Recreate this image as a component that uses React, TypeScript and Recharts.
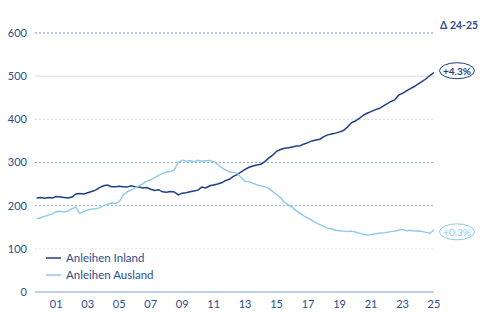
import { Legend, Line, LineChart, ReferenceLine, XAxis, YAxis } from 'recharts';

const startPeriod = 1999.75;

// Anleihen Inland, quarterly
const inland = [
  218,
  219, 217, 219, 218,
  221, 220, 219, 218,
  220, 227, 228, 227,
  230, 233, 236, 242,
  246, 248, 244, 244,
  245, 244, 243, 246,
  244, 243, 241, 242,
  238, 235, 237, 232,
  231, 233, 232, 225,
  229, 230, 232, 234,
  236, 243, 241, 246,
  248, 250, 253, 258,
  261, 268, 272, 278,
  284, 289, 292, 294,
  296, 302, 310, 317,
  326, 330, 333, 334,
  336, 338, 339, 343,
  346, 350, 352, 354,
  360, 364, 366, 368,
  371, 374, 382, 392,
  396, 402, 409, 414,
  418, 422, 425, 430,
  436, 441, 445, 456,
  460, 466, 471, 476,
  482, 488, 494, 502,
  508,
];

// Anleihen Ausland, quarterly
const ausland = [
  170,
  172, 175, 178, 181,
  186, 187, 185, 188,
  193, 196, 182, 186,
  190, 192, 193, 195,
  200, 203, 206, 205,
  209, 224, 232, 236,
  241, 246, 251, 257,
  260, 265, 270, 275,
  278, 279, 283, 300,
  306, 303, 304, 302,
  305, 303, 304, 305,
  302, 296, 288, 283,
  278, 277, 275, 265,
  257, 255, 252, 248,
  246, 244, 240, 233,
  226, 219, 208, 202,
  196, 188, 182, 176,
  171, 166, 160, 156,
  152, 148, 146, 143,
  142, 141, 140, 141,
  139, 136, 134, 132,
  133, 135, 136, 137,
  138, 140, 141, 143,
  145, 142, 143, 141,
  142, 140, 138, 136,
  144,
];

const seriesNames = ['Anleihen Inland', 'Anleihen Ausland'];
const xTicks = [2001, 2003, 2005, 2007, 2009, 2011, 2013, 2015, 2017, 2019, 2021, 2023, 2025];
const yTicks = [0, 100, 200, 300, 400, 500, 600];
const changeLabels = { inland: '+4.3%', ausland: '+0.3%' };
const deltaTitle = 'Δ 24-25';

const DARK = '#1d3f87';
const LIGHT = '#8ccbe8';
const TEXT = '#2b4c8c';
const FONT = 'Lato, "Open Sans", sans-serif';

const data = inland.map((v, i) => ({
  t: startPeriod + i * 0.25,
  inland: v,
  ausland: ausland[i],
}));

const gridStyles: Record<number, { stroke: string; dash?: string }> = {
  100: { stroke: '#dde5f2', dash: '2 2' },
  200: { stroke: '#8ea8d6', dash: '2 2' },
  300: { stroke: '#8ea8d6', dash: '2 2' },
  400: { stroke: '#cad6ec', dash: '2 2' },
  500: { stroke: '#d3dce8' },
  600: { stroke: '#7090c8', dash: '2 2' },
};

const endLabel = (text: string, color: string, bold: boolean, dy: number) => (props: any) => {
  const { x, y, index } = props;
  if (index !== data.length - 1 || x == null || y == null) return null;
  const cx = x + 23;
  const cy = y + dy;
  return (
    <g>
      <ellipse cx={cx} cy={cy} rx={17.5} ry={8} fill="#fff" stroke={color} strokeWidth={1} />
      <text
        x={cx}
        y={cy}
        textAnchor="middle"
        dominantBaseline="central"
        fill={color}
        fontSize={10}
        fontWeight={bold ? 700 : 400}
        fontFamily={FONT}
      >
        {text}
      </text>
    </g>
  );
};

const renderLegend = (props: any) => {
  const items = [...(props.payload || [])].sort(
    (a: any, b: any) => seriesNames.indexOf(a.value) - seriesNames.indexOf(b.value)
  );
  return (
    <div style={{ fontFamily: FONT, fontSize: 11.5, color: TEXT }}>
      {items.map((entry: any) => (
        <div key={entry.value} style={{ display: 'flex', alignItems: 'center', height: 17 }}>
          <svg width={16} height={4} style={{ marginRight: 4 }}>
            <line x1={0} y1={2} x2={15} y2={2} stroke={entry.color} strokeWidth={1.5} />
          </svg>
          <span>{entry.value}</span>
        </div>
      ))}
    </div>
  );
};

export default function App() {
  return (
    <div style={{ position: 'absolute', left: 0, top: 0, background: '#fff' }}>
      <LineChart
        width={500}
        height={315}
        data={data}
        margin={{ top: 33, right: 66, bottom: 0, left: 0 }}
      >
        {yTicks.slice(1).map((v) => (
          <ReferenceLine
            key={v}
            y={v}
            stroke={gridStyles[v].stroke}
            strokeDasharray={gridStyles[v].dash}
            strokeWidth={1}
            label={
              v === 600
                ? (p: any) => (
                    <text
                      x={p.viewBox.x + p.viewBox.width + 6}
                      y={p.viewBox.y - 8}
                      fill={TEXT}
                      fontSize={10.5}
                      fontWeight={700}
                      fontFamily={FONT}
                      dominantBaseline="central"
                    >
                      {deltaTitle}
                    </text>
                  )
                : undefined
            }
          />
        ))}
        <XAxis
          dataKey="t"
          type="number"
          domain={[1999.65, 2025]}
          ticks={xTicks}
          tickFormatter={(v) => String(v).slice(2)}
          tickLine={false}
          axisLine={{ stroke: '#7f9fd3', strokeWidth: 1.2 }}
          tick={{ fill: TEXT, fontSize: 11, fontFamily: FONT }}
          height={23}
          allowDataOverflow
        />
        <YAxis
          domain={[0, 600]}
          ticks={yTicks}
          tickLine={false}
          axisLine={false}
          tick={{ fill: TEXT, fontSize: 11, fontFamily: FONT }}
          width={35}
        />
        <Legend
          layout="vertical"
          align="center"
          verticalAlign="middle"
          content={renderLegend}
          wrapperStyle={{ left: 46, top: 249, width: 160, height: 36 }}
        />
        <Line
          dataKey="inland"
          name={seriesNames[0]}
          stroke={DARK}
          strokeWidth={1.5}
          dot={false}
          isAnimationActive={false}
          label={endLabel(changeLabels.inland, DARK, true, -2)}
        />
        <Line
          dataKey="ausland"
          name={seriesNames[1]}
          stroke={LIGHT}
          strokeWidth={1.4}
          dot={false}
          isAnimationActive={false}
          label={endLabel(changeLabels.ausland, LIGHT, false, 2)}
        />
      </LineChart>
    </div>
  );
}
